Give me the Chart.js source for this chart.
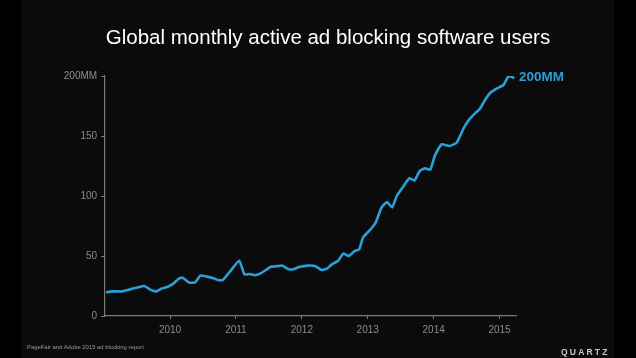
<!DOCTYPE html>
<html><head><meta charset="utf-8">
<script src="https://cdn.jsdelivr.net/npm/chart.js@4/dist/chart.umd.min.js"></script>
<style>
html,body{margin:0;padding:0;background:#000;}
#wrap{position:relative;width:636px;height:358px;overflow:hidden;background:#000;}
#panel{position:absolute;left:21px;top:0;width:593px;height:358px;background:#0b0b0b;}
#c{position:absolute;left:0;top:0;}
.t{position:absolute;font-family:"Liberation Sans",Arial,sans-serif;white-space:nowrap;}
#title{left:0;width:656px;top:25px;text-align:center;color:#fff;font-size:20.5px;}
#src{left:27px;top:344px;color:#9a9a9a;font-size:5.9px;}
#qz{left:561px;top:347px;color:#c8c8c8;font-size:8.5px;font-weight:bold;letter-spacing:2.2px;}
</style></head>
<body><div id="wrap"><div id="panel"></div><canvas id="c" width="636" height="358"></canvas>
<div class="t" id="title">Global monthly active ad blocking software users</div>
<div class="t" id="src">PageFair and Adobe 2015 ad blocking report</div>
<div class="t" id="qz">QUARTZ</div>
</div>
<script>
const dates = [2009.03,2009.12,2009.27,2009.34,2009.44,2009.52,2009.61,2009.70,2009.79,2009.87,2009.97,
2010.05,2010.13,2010.19,2010.29,2010.38,2010.46,2010.56,2010.66,2010.73,2010.80,2010.91,
2011.05,2011.13,2011.21,2011.29,2011.39,2011.53,2011.61,2011.70,2011.80,2011.87,2011.97,
2012.09,2012.20,2012.30,2012.38,2012.45,2012.55,2012.63,2012.71,2012.80,2012.87,2012.93,
2013.04,2013.12,2013.21,2013.29,2013.37,2013.44,2013.54,2013.63,2013.71,2013.79,2013.87,2013.95,
2014.02,2014.12,2014.24,2014.35,2014.45,2014.53,2014.63,2014.70,2014.78,2014.86,2014.96,
2015.06,2015.13,2015.19,2015.22];
const users = [19.7,20.5,20.5,21.4,23,24,25,22,20.5,22.8,24.5,
27,31,32,27.8,28,33.6,32.8,31.4,30,30,37,
46,34.7,35,34,36,41,41.4,42,39,39,41,
42,41.7,38.3,39.4,42.8,46,52,50,54,55.5,65.6,
72,77.8,90.5,95,90.5,100,108,114.7,113,121,123,122,
134,143,141.7,144.4,156,163,169,172.5,180,186,189.7,
192.5,199.4,199.4,198];
const yearTicks = [2010,2011,2012,2013,2014,2015];
const valueTicks = [0,50,100,150,200];
const endLabel = "200MM";

const axisGray = '#7a7a7a';
const labelGray = '#8c8c8c';
const blue = '#2a9fd9';

const endLabelPlugin = {
  id:'endLabel',
  afterDatasetsDraw(chart){
    const meta = chart.getDatasetMeta(0);
    const pt = meta.data[meta.data.length-1];
    const ctx = chart.ctx;
    ctx.save();
    ctx.font = 'bold 13.5px "Liberation Sans", Arial, sans-serif';
    ctx.fillStyle = blue;
    ctx.textBaseline = 'middle';
    ctx.fillText(endLabel, pt.x + 5, chart.scales.y.getPixelForValue(200) + 1);
    ctx.restore();
  }
};

new Chart(document.getElementById('c'), {
  type:'line',
  data:{datasets:[{data:dates.map((d,i)=>({x:d,y:users[i]})),borderColor:blue,borderWidth:2.6,pointRadius:0,tension:0.15,fill:false}]},
  options:{
    responsive:false,animation:false,
    layout:{padding:{left:40,top:76,right:119.3,bottom:0}},
    plugins:{legend:{display:false},tooltip:{enabled:false}},
    scales:{
      x:{type:'linear',min:2009,max:2015.26,
        afterBuildTicks(s){s.ticks=yearTicks.map(v=>({value:v}));},
        afterFit(s){s.height=42;},
        grid:{display:true,drawOnChartArea:false,drawTicks:true,tickLength:3,color:axisGray},
        border:{display:true,color:axisGray,width:1.2},
        ticks:{color:labelGray,font:{family:'"Liberation Sans", Arial, sans-serif',size:10},padding:5,maxRotation:0,callback:v=>String(v)}
      },
      y:{min:0,max:200,
        afterBuildTicks(s){s.ticks=valueTicks.map(v=>({value:v}));},
        afterFit(s){s.width=64.1;},
        grid:{display:true,drawOnChartArea:false,drawTicks:true,tickLength:3,color:axisGray},
        border:{display:true,color:axisGray,width:1.2},
        ticks:{color:labelGray,font:{family:'"Liberation Sans", Arial, sans-serif',size:10},padding:4,callback:v=>v===200?'200MM':String(v)}
      }
    }
  },
  plugins:[endLabelPlugin]
});
</script></body></html>
